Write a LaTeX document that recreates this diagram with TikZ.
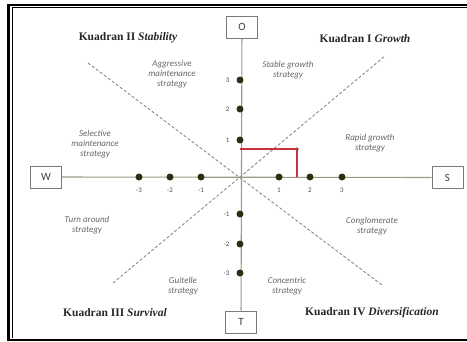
\documentclass[tikz,border=0pt]{standalone}
\usepackage{fontspec}
\setmainfont{Liberation Serif}
\newfontfamily\calfont{Carlito}
\definecolor{axisc}{HTML}{9A9A88}
\definecolor{dotc}{HTML}{2B3012}
\definecolor{labc}{HTML}{666666}
\definecolor{redc}{HTML}{C8303C}
\definecolor{boxc}{HTML}{7A7A7A}
\tikzset{
  lbox/.style={draw=boxc, line width=0.8pt, minimum width=31pt, minimum height=22pt, inner sep=0pt, font=\calfont\fontsize{11}{12}\selectfont, text=black!75, fill=white},
  sdot/.style={circle, fill=dotc, minimum size=7pt, inner sep=0pt},
  tick/.style={font=\calfont\fontsize{7}{8}\selectfont, text=black!70},
  strat/.style={font=\calfont\itshape\fontsize{9}{10}\selectfont, text=labc, align=center},
  quad/.style={font=\fontsize{11.5}{13}\selectfont\bfseries, text=black!85},
  axis/.style={draw=axisc, line width=1.1pt},
  diag/.style={draw=black!50, line width=0.8pt, dash pattern=on 3pt off 2pt},
  redl/.style={draw=redc, line width=1.3pt}
}
\begin{document}
\begin{tikzpicture}[x=1pt,y=-1pt]
\useasboundingbox (0,0) rectangle (467,341);
% frame
\draw[line width=2.6pt] (8.7,341) -- (8.7,5) -- (467,5);
\draw[line width=0.8pt] (12,338) -- (12,7.5) -- (467,7.5);
\draw[line width=2.4pt] (8,339.8) -- (467,339.8);
% diagonals
\coordinate (c) at (240,177);
\coordinate (d1) at (88,63);
\coordinate (d2) at (382,285);
\coordinate (d3) at (113,283);
\coordinate (d4) at (385,56);
\draw[diag] (d1) -- (d2);
\draw[diag] (d3) -- (d4);
% boxes
\node[lbox] (O) at (242,27) {O};
\node[lbox] (T) at (241,322) {T};
\node[lbox] (W) at (46,177) {W};
\node[lbox] (S) at (447.5,177.5) {S};
\draw[axis] (W) -- (S);
\draw[axis] (O) -- (T);
% red lines
\coordinate (r0) at (240,149);
\coordinate (rb) at (297,177);
\node[circle, fill=black, minimum size=3.5pt, inner sep=0pt] (p) at (297,149) {};
\draw[redl] (r0) -- (p.center) -- (rb);
% dots horizontal
\foreach \n/\x/\l in {m3/139/-3, m2/170/-2, m1/201/-1, p1/279/1, p2/310/2, p3/342/3}{
  \node[sdot] (h\n) at (\x,177) {};
  \node[tick] (hl\n) at (\x,190) {\l};
}
\foreach \n/\y/\l in {p3/80/3, p2/109/2, p1/140/1, m1/214/-1, m2/244/-2, m3/273/-3}{
  \node[sdot] (v\n) at (240,\y) {};
  \node[tick, anchor=east] (vl\n) at (233,\y) {\l};
}
% quadrant titles
\node[quad] (q2) at (128,38) {Kuadran II \textit{Stability}};
\node[quad] (q1) at (365,39) {Kuadran I \textit{Growth}};
\node[quad] (q3) at (115,313) {Kuadran III \textit{Survival}};
\node[quad] (q4) at (372,313) {Kuadran IV \textit{Diversification}};
% strategy labels
\node[strat] (s1) at (172,74) {Aggressive\\maintenance\\strategy};
\node[strat] (s2) at (288,70) {Stable growth\\strategy};
\node[strat] (s3) at (95,144) {Selective\\maintenance\\strategy};
\node[strat] (s4) at (370,143) {Rapid growth\\strategy};
\node[strat] (s5) at (87,225) {Turn around\\strategy};
\node[strat] (s6) at (372,226) {Conglomerate\\strategy};
\node[strat] (s7) at (183,286) {Guitelle\\strategy};
\node[strat] (s8) at (287,286) {Concentric\\strategy};
\end{tikzpicture}
\end{document}
